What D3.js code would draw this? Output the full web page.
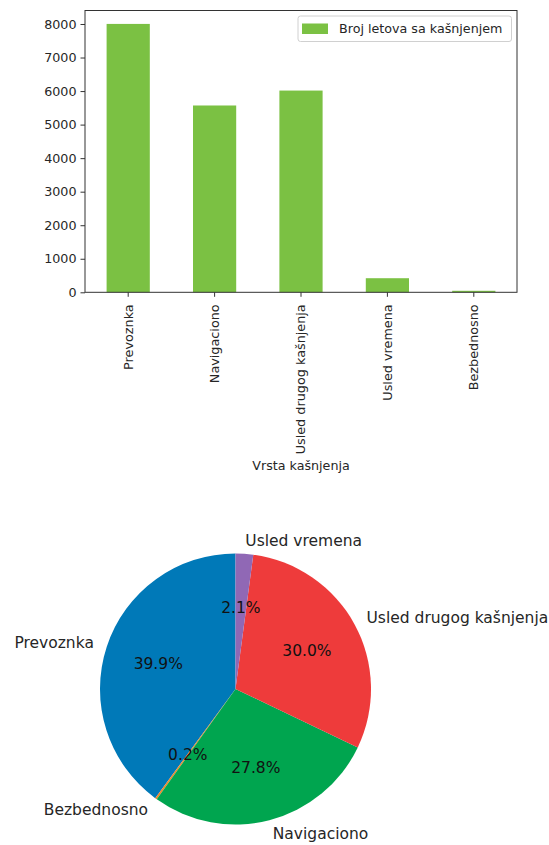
<!DOCTYPE html>
<html>
<head>
<meta charset="utf-8">
<script src="https://cdn.jsdelivr.net/npm/d3@7"></script>
<style>
  html, body { margin: 0; padding: 0; background: #fff; }
  svg { display: block; font-family: "DejaVu Sans", sans-serif; }
</style>
</head>
<body>
<svg id="chart" width="549" height="845"></svg>
<script>
// ---- Data ----
const categories = ["Prevoznka", "Navigaciono", "Usled drugog kašnjenja", "Usled vremena", "Bezbednosno"];
const delayCounts = [8002, 5570, 6015, 420, 45];
const yTicks = [0, 1000, 2000, 3000, 4000, 5000, 6000, 7000, 8000];
const seriesName = "Broj letova sa kašnjenjem";
const xAxisTitle = "Vrsta kašnjenja";
const pieOrder = ["Prevoznka", "Bezbednosno", "Navigaciono", "Usled drugog kašnjenja", "Usled vremena"];
const pieColors = ["#0079b8", "#f0892a", "#00a54f", "#ee3b3b", "#9068b5"];

const svg = d3.select("#chart");
const textColor = "#262626";

// ---- Bar chart ----
const m = { left: 85, right: 517, top: 10.5, bottom: 292.3 };
const x = d3.scaleBand().domain(categories).range([m.left, m.right])
  .paddingInner(0.5).paddingOuter(0.25);
const y = d3.scaleLinear().domain([0, d3.max(delayCounts) * 1.05]).range([m.bottom, m.top]);

const barG = svg.append("g");
barG.selectAll("rect.bar").data(categories).join("rect")
  .attr("class", "bar")
  .attr("x", d => x(d))
  .attr("width", x.bandwidth())
  .attr("y", (d, i) => y(delayCounts[i]))
  .attr("height", (d, i) => y(0) - y(delayCounts[i]))
  .attr("fill", "#7bc143");

// axes
const yAxis = d3.axisLeft(y).tickValues(yTicks).tickSize(4.5).tickPadding(4).tickFormat(d3.format("d"));
const yg = svg.append("g").attr("transform", `translate(${m.left},0)`).call(yAxis);
const xAxis = d3.axisBottom(x).tickSize(4.5).tickPadding(4);
const xg = svg.append("g").attr("transform", `translate(0,${m.bottom})`).call(xAxis);
[yg, xg].forEach(g => {
  g.select(".domain").remove();
  g.selectAll(".tick line").attr("stroke", "#333");
  g.selectAll(".tick text").attr("fill", textColor).style("font-size", "12.7px")
    .style("font-family", "'DejaVu Sans', sans-serif");
});
xg.selectAll(".tick text")
  .style("font-size", "12.8px")
  .attr("transform", "rotate(-90)")
  .attr("text-anchor", "end")
  .attr("x", -12)
  .attr("y", 0)
  .attr("dy", "0.35em");

// frame
svg.append("rect")
  .attr("x", m.left).attr("y", m.top)
  .attr("width", m.right - m.left).attr("height", m.bottom - m.top)
  .attr("fill", "none").attr("stroke", "#333").attr("stroke-width", 1);

// x title
svg.append("text").attr("x", (m.left + m.right) / 2).attr("y", 470)
  .attr("text-anchor", "middle").attr("fill", textColor).style("font-size", "12.7px")
  .text(xAxisTitle);

// legend
const lg = svg.append("g");
lg.append("rect").attr("x", 298).attr("y", 16).attr("width", 213.5).attr("height", 25.5)
  .attr("rx", 2.5).attr("fill", "#fff").attr("stroke", "#d0d0d0").attr("stroke-width", 1);
lg.append("rect").attr("x", 302).attr("y", 23.5).attr("width", 26).attr("height", 10.5)
  .attr("fill", "#7bc143");
lg.append("text").attr("x", 339).attr("y", 29).attr("dy", "0.35em")
  .attr("fill", textColor).style("font-size", "12.7px").text(seriesName);

// ---- Pie chart ----
const cx = 235.5, cy = 689, R = 135.5;
const pieValues = pieOrder.map(n => delayCounts[categories.indexOf(n)]);
const total = d3.sum(pieValues);
const pie = d3.pie().sort(null).startAngle(0).endAngle(-2 * Math.PI);
const arcs = pie(pieValues);
const arc = d3.arc().innerRadius(0).outerRadius(R);
const pg = svg.append("g").attr("transform", `translate(${cx},${cy})`);
pg.selectAll("path").data(arcs).join("path")
  .attr("d", arc)
  .attr("fill", (d, i) => pieColors[i]);

const fmt = d3.format(".1f");
arcs.forEach((a, i) => {
  const mid = (a.startAngle + a.endAngle) / 2;
  const sx = Math.sin(mid), sy = -Math.cos(mid);
  // category label
  pg.append("text")
    .attr("x", sx * R * 1.1).attr("y", sy * R * 1.1).attr("dy", "0.35em")
    .attr("text-anchor", sx > 0 ? "start" : "end")
    .attr("fill", textColor).style("font-size", "15.5px")
    .text(pieOrder[i]);
  // percent label
  pg.append("text")
    .attr("x", sx * R * 0.6).attr("y", sy * R * 0.6).attr("dy", "0.35em")
    .attr("text-anchor", "middle")
    .attr("fill", "#111").style("font-size", "15.5px")
    .text(fmt(pieValues[i] / total * 100) + "%");
});
</script>
</body>
</html>
